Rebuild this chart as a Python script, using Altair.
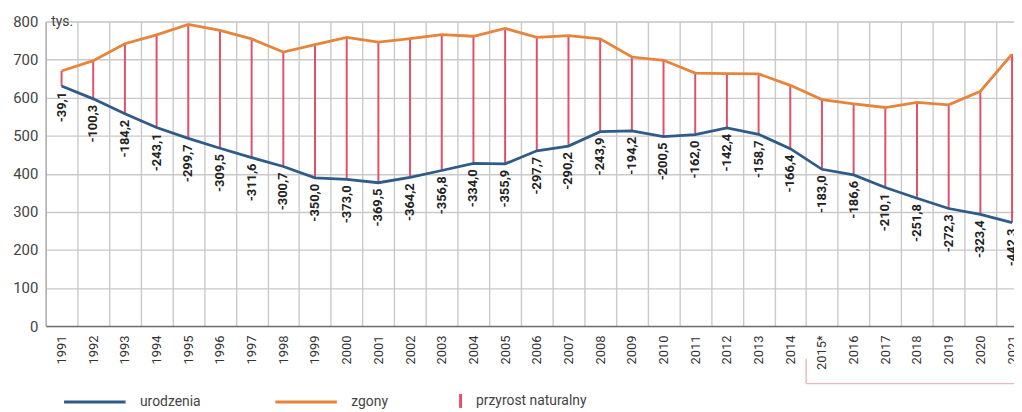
import altair as alt
import pandas as pd

YEARS = ["1991", "1992", "1993", "1994", "1995", "1996", "1997", "1998", "1999", "2000",
         "2001", "2002", "2003", "2004", "2005", "2006", "2007", "2008", "2009", "2010",
         "2011", "2012", "2013", "2014", "2015*", "2016", "2017", "2018", "2019", "2020", "2021"]
BIRTHS = [630.8, 596.8, 557.5, 521.6, 492.9, 467.2, 442.6, 419.2, 389.2, 385.1,
          376.5, 390.7, 408.6, 427.3, 426.1, 460.4, 472.7, 510.6, 512.5, 497.7,
          502.6, 520.7, 503.7, 465.9, 411.8, 397.0, 364.0, 335.9, 308.8, 293.5, 271.9]
DEATHS = [669.9, 697.1, 741.7, 764.7, 792.6, 776.7, 754.2, 719.9, 739.2, 758.1,
          745.9, 754.9, 765.4, 761.3, 782.0, 758.1, 762.9, 754.5, 706.7, 698.2,
          664.6, 663.1, 662.4, 632.3, 594.8, 583.6, 574.1, 587.7, 581.1, 616.8, 714.3]
INCREASE = [-39.1, -100.3, -184.2, -243.1, -299.7, -309.5, -311.6, -300.7, -350.0, -373.0,
            -369.5, -364.2, -356.8, -334.0, -355.9, -297.7, -290.2, -243.9, -194.2, -200.5,
            -162.0, -142.4, -158.7, -166.4, -183.0, -186.6, -210.1, -251.8, -272.3, -323.4, -442.3]
Y_TICKS = [0, 100, 200, 300, 400, 500, 600, 700, 800]
SERIES = ["urodzenia", "zgony"]
INCREASE_NAME = "przyrost naturalny"
BRACKET_START = "2015*"

LABELS = [f"{v:.1f}".replace(".", ",") for v in INCREASE]

df = pd.DataFrame({
    "year": YEARS,
    "urodzenia": BIRTHS,
    "zgony": DEATHS,
    "label": LABELS,
    "kind": [INCREASE_NAME] * len(YEARS),
})
long = df.melt(id_vars=["year"], value_vars=SERIES, var_name="series", value_name="value")
bracket = pd.DataFrame({"year": [BRACKET_START]})

FONT = "Roboto"
BLUE = "#2f5b88"
ORANGE = "#e8843a"
RED = "#e0506a"
GRID = "#c9c9c9"

x_scale = alt.Scale(type="band", domain=YEARS, range=[0, 990], paddingInner=0, paddingOuter=0)
y_scale = alt.Scale(domain=[0, 800], nice=False)

x_axis = alt.Axis(
    title=None, labelAngle=-90, labelAlign="right", labelBaseline="middle",
    labelFontSize=13, labelColor="#333", labelPadding=9, ticks=False,
    grid=True, tickBand="extent", gridColor=GRID, gridWidth=1.4,
    domainColor="#707070", domainWidth=1.5, labelFont=FONT,
)
y_axis = alt.Axis(
    values=Y_TICKS, tickCount=9, title="tys.", titleAngle=0, titleX=5, titleY=0,
    titleAlign="left", titleBaseline="middle", titleFontSize=14,
    titleFontWeight="normal", titleColor="#444", titleFont=FONT,
    labelFontSize=15, labelColor="#444", labelPadding=8, ticks=False,
    grid=True, gridColor=GRID, gridWidth=1.4, domainColor="#aaaaaa", domainWidth=1.2,
    labelFont=FONT, labelOverlap=False,
)


def X(**kw):
    return alt.X("year:N", scale=x_scale, sort=YEARS, axis=x_axis, **kw)


def Y(field):
    return alt.Y(field, scale=y_scale, axis=y_axis)


rules = alt.Chart(df).mark_rule(strokeWidth=2).encode(
    x=X(),
    y=Y("urodzenia:Q"),
    y2="zgony:Q",
    color=alt.Color("kind:N", scale=alt.Scale(domain=[INCREASE_NAME], range=[RED]),
                    legend=alt.Legend(title=None, orient="none", legendX=409.7, legendY=374,
                                      symbolType="M0,-1L0,1", symbolSize=196,
                                      symbolStrokeWidth=3, labelFontSize=14,
                                      labelColor="#444", labelOffset=7, padding=0,
                                      labelFont=FONT)),
)

lines = alt.Chart(long).mark_line(strokeWidth=2.8).encode(
    x=X(),
    y=Y("value:Q"),
    color=alt.Color("series:N", scale=alt.Scale(domain=SERIES, range=[BLUE, ORANGE]),
                    legend=alt.Legend(title=None, orient="none", legendX=17, legendY=350.7,
                                      direction="horizontal", symbolType="stroke",
                                      symbolSize=3844, symbolStrokeWidth=3,
                                      labelFontSize=14, labelColor="#444",
                                      labelOffset=13, columnPadding=68, padding=0,
                                      labelFont=FONT)),
)

labels = alt.Chart(df).mark_text(
    angle=270, align="right", baseline="middle", dx=-6,
    fontSize=13, fontWeight="bold", color="#222", font=FONT,
).encode(
    x=X(),
    y=Y("urodzenia:Q"),
    text="label:N",
)

bracket_v = alt.Chart(bracket).mark_rule(color="#e9b9c0", strokeWidth=1.5).encode(
    x=X(bandPosition=0),
    y=alt.value(340),
    y2=alt.value(365),
)
bracket_h = alt.Chart(bracket).mark_rule(color="#e9b9c0", strokeWidth=1.5).encode(
    x=X(bandPosition=0),
    x2=alt.value(1000),
    y=alt.value(365),
)

chart = alt.layer(rules, lines, labels, bracket_v, bracket_h).resolve_scale(
    color="independent"
).properties(
    width=976, height=307,
    autosize=alt.AutoSizeParams(type="none"),
    padding={"left": 38, "top": 12, "right": 0, "bottom": 85},
).configure_view(stroke=None).configure(font=FONT)

chart.save("out.html", embed_options={"renderer": "svg", "actions": False})
